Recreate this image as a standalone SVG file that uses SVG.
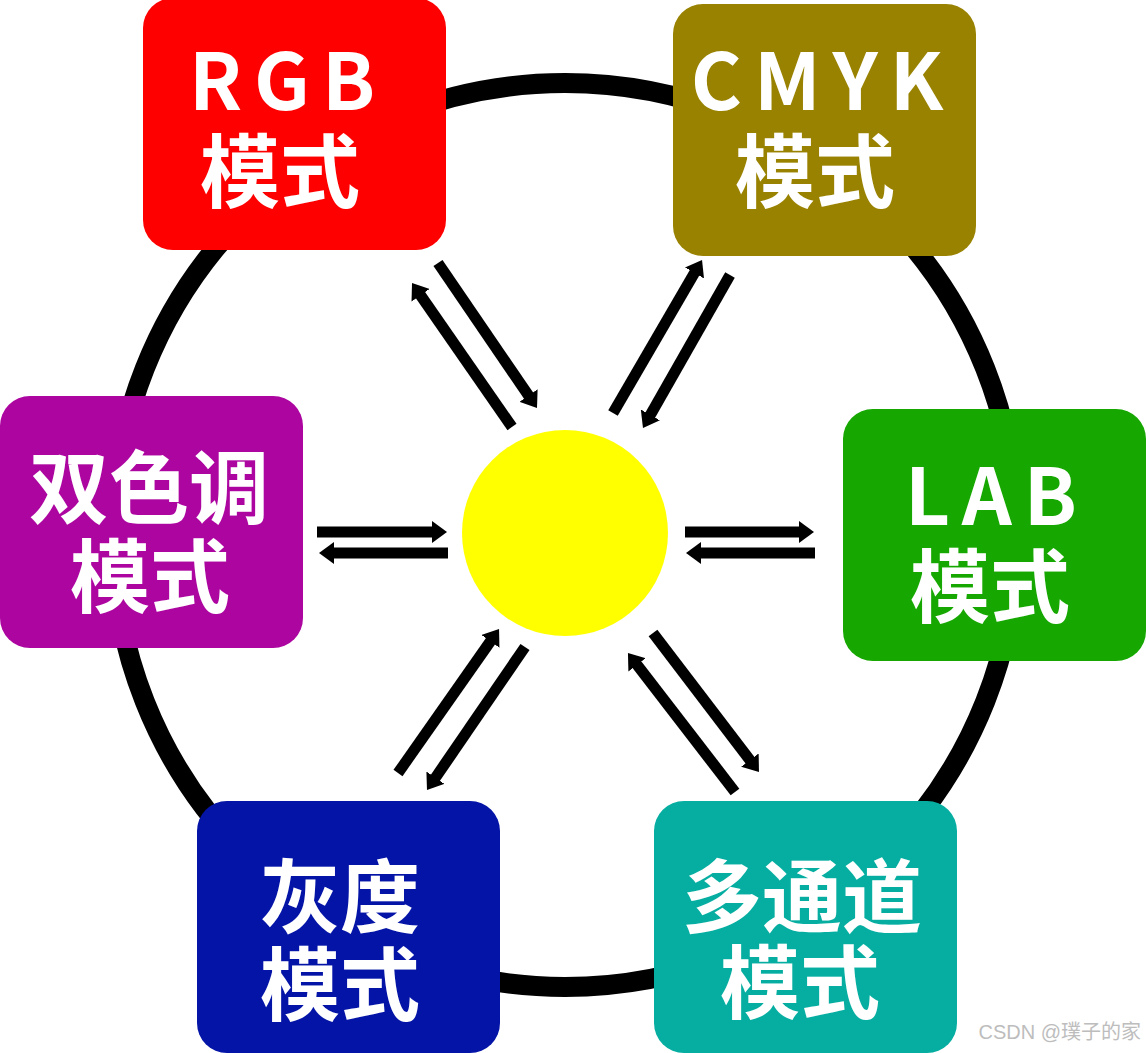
<svg xmlns="http://www.w3.org/2000/svg" width="1146" height="1053" viewBox="0 0 1146 1053">
<style>
.box{stroke:none}
.t{font-family:"Noto Sans CJK SC","Noto Sans",sans-serif;font-weight:bold;fill:#ffffff;text-anchor:middle}
.lat{font-size:78px;letter-spacing:12px}
.cjk{font-size:80px}
.arr{stroke:#000000;stroke-width:11;fill:none;marker-end:url(#ah)}
.wm{font-family:"Liberation Sans","Noto Sans CJK SC",sans-serif;font-size:20px;fill:#bdbdbd;text-anchor:end}
</style>
<defs>
<marker id="ah" markerUnits="userSpaceOnUse" markerWidth="16" markerHeight="22" refX="1" refY="11" orient="auto">
<path d="M0,0 L15,11 L0,22 Z" fill="#000000"/>
</marker>
</defs>
<rect width="1146" height="1053" fill="#ffffff"/>
<circle id="ring" cx="565" cy="535" r="452" fill="none" stroke="#000000" stroke-width="20"/>
<g id="rgb">
<rect class="box" x="143" y="-2" width="303" height="252" rx="30" fill="#ff0000"/>
<text class="t lat" x="288" y="110">RGB</text>
<text class="t cjk" x="280" y="201">模式</text>
</g>
<g id="cmyk">
<rect class="box" x="673" y="4" width="303" height="252" rx="30" fill="#998200"/>
<text class="t lat" x="823" y="110">CMYK</text>
<text class="t cjk" x="815" y="201">模式</text>
</g>
<g id="duotone">
<rect class="box" x="0" y="396" width="303" height="252" rx="30" fill="#ac05a0"/>
<text class="t cjk" x="149" y="517">双色调</text>
<text class="t cjk" x="150" y="606">模式</text>
</g>
<g id="lab">
<rect class="box" x="843" y="409" width="303" height="252" rx="30" fill="#16a800"/>
<text class="t lat" x="997" y="525">LAB</text>
<text class="t cjk" x="990" y="616">模式</text>
</g>
<g id="gray">
<rect class="box" x="197" y="801" width="303" height="252" rx="30" fill="#0414a6"/>
<text class="t cjk" x="340" y="926">灰度</text>
<text class="t cjk" x="340" y="1014">模式</text>
</g>
<g id="multichannel">
<rect class="box" x="654" y="801" width="303" height="252" rx="30" fill="#06aea1"/>
<text class="t cjk" x="802" y="926">多通道</text>
<text class="t cjk" x="800" y="1012">模式</text>
</g>
<g id="center">
<circle cx="565" cy="533" r="103" fill="#ffff00"/>
</g>
<g id="connectors">
<line class="arr" x1="512" y1="427" x2="420" y2="294.5"/>
<line class="arr" x1="438" y1="263" x2="529.1" y2="396.4"/>
<line class="arr" x1="613" y1="413" x2="695" y2="272.1"/>
<line class="arr" x1="730" y1="275" x2="649.9" y2="415.8"/>
<line class="arr" x1="317" y1="532" x2="433" y2="532"/>
<line class="arr" x1="448" y1="553" x2="333" y2="553"/>
<line class="arr" x1="685" y1="532" x2="800" y2="532"/>
<line class="arr" x1="815" y1="553" x2="700" y2="553"/>
<line class="arr" x1="398" y1="773" x2="491" y2="640.5"/>
<line class="arr" x1="525" y1="647" x2="434.9" y2="778.5"/>
<line class="arr" x1="653" y1="633" x2="750.5" y2="760.9"/>
<line class="arr" x1="735" y1="792" x2="636.5" y2="664.1"/>
</g>
<text class="wm" x="1141" y="1039">CSDN @璞子的家</text>
</svg>
